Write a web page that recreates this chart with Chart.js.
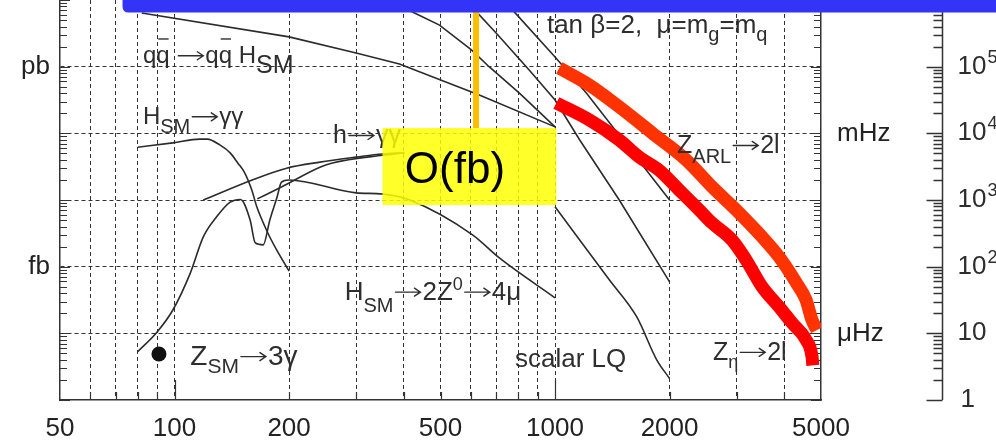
<!DOCTYPE html>
<html>
<head>
<meta charset="utf-8">
<script src="https://cdn.jsdelivr.net/npm/chart.js@4.4.1/dist/chart.umd.min.js"></script>
<style>
  html, body { margin: 0; padding: 0; background: #fff; overflow: hidden; }
  canvas { display: block; }
</style>
</head>
<body>
<canvas id="c" width="996" height="443"></canvas>
<script>
// ---- axes -------------------------------------------------------------
const massGrid   = [50, 60, 70, 80, 90, 100, 200, 300, 400, 500, 600, 700, 800, 900, 1000, 2000, 3000, 4000, 5000];
const massLabels = [50, 100, 200, 500, 1000, 2000, 5000];
const xsecDecades = [0.01, 0.1, 1, 10, 100, 1000, 10000];   // fb
const unitLabels = { 1000: 'pb', 1: 'fb' };
const rateLabels = { 100: 'mHz', 0.1: 'μHz' };
const rateDecades = [1, 10, 100, 1000, 10000, 100000];        // events / year scale
const ratePerFb = 100;

// ---- curves: mass (GeV) vs sigma x BR (fb) -----------------------------
const qqH_mass = [82, 200, 300, 390, 630, 1000];
const qqH_xsec = [6400, 2800, 1600, 1100, 380, 125];

const susyA_mass = [401, 422, 497, 603, 672, 806, 1000];
const susyA_xsec = [7700, 6600, 4200, 1780, 990, 400, 125];

const susyB_mass = [602, 700, 855, 1000, 1160, 1475, 2000];
const susyB_xsec = [8100, 3200, 890, 316, 80, 10, 0.59];

const susyC_mass = [757, 1000, 1210, 2000];
const susyC_xsec = [8100, 1400, 400, 10];

const lq_mass = [1000, 1390, 1640, 1850, 2000];
const lq_xsec = [7.9, 0.63, 0.176, 0.04, 0.021];

const hzz_mass = [80, 90, 99, 110, 119, 129, 140, 149, 158, 163, 171, 178, 186, 191, 200, 300, 352, 415, 607, 714, 1000];
const hzz_xsec = [0.053, 0.105, 0.224, 0.80, 2.8, 5.6, 9.3, 10.2, 5.0, 2.27, 2.12, 5.0, 11.1, 18.6, 20, 12.8, 12.3, 10, 3.0, 1.35, 0.34];

const hgg_mass = [80, 99, 116.5, 122, 131.5, 140, 146.6, 153, 159.6, 164.5, 175, 185.5, 200];
const hgg_xsec = [62, 72, 82, 82, 67, 51, 36, 25.4, 14.1, 7.9, 3.4, 1.78, 0.86];

const hggSusy1_mass = [119, 160, 197, 241, 301, 352, 402];
const hggSusy1_xsec = [10, 20, 30, 37, 44, 49, 51];

const hggSusy2_mass = [165, 191, 241, 260, 352, 402];
const hggSusy2_xsec = [10.4, 15.7, 31, 36, 47, 51];

const zArl_mass = [1026, 1230, 1475, 1801, 2211, 2587, 2991, 3500, 3880, 4300, 4567, 4735, 4880];
const zArl_xsec = [955, 531, 249, 101, 40, 15.7, 7.1, 2.79, 1.40, 0.58, 0.317, 0.158, 0.112];

const zEta_mass = [1008, 1230, 1475, 1665, 1878, 2120, 2392, 2587, 2920, 3178, 3500, 3880, 4196, 4567, 4735, 4760];
const zEta_xsec = [285, 159, 79.5, 44, 28, 14.1, 7.1, 4.5, 2.5, 1.26, 0.5, 0.25, 0.143, 0.08, 0.045, 0.033];

const z3g_mass = [91];
const z3g_xsec = [0.049];

// ---- annotation extents (GeV / fb) ------------------------------------
const reachBox = { massFrom: 352, massTo: 1008, xsecFrom: 8.4, xsecTo: 120 };
const reachMarkMass = 620;
const bannerFromMass = 73;
const bannerToXsec = 6500;

const FONT = '"Liberation Sans", Arial, Helvetica, sans-serif';
const INK = '#2e2e2e';
const LINE = '#2b2b2b';

const pts = (xs, ys) => xs.map((x, i) => ({ x, y: ys[i] }));

function thin(xs, ys, smooth) {
  return {
    data: pts(xs, ys), borderColor: LINE, borderWidth: 1.6, pointRadius: 0,
    fill: false, order: 2,
    cubicInterpolationMode: smooth ? 'monotone' : 'default', tension: 0
  };
}
function thick(xs, ys, color) {
  return {
    data: pts(xs, ys), borderColor: color, borderWidth: 13, pointRadius: 0,
    fill: false, order: 0, cubicInterpolationMode: 'monotone',
    borderCapStyle: 'butt', borderJoinStyle: 'round'
  };
}

// ---- process labels ---------------------------------------------------
const curveLabels = [
  { at: [82.6, 1136], size: 24, subSize: 25, subDy: 10,
    parts: [['q'], ['q', 'bar'], [' '], ['', 'arrow'], ['q'], ['q', 'bar'], [' '], ['H'], ['SM', 'sub']] },
  { at: [82.6, 138], size: 24, subSize: 20, subDy: 9,
    parts: [['H'], ['SM', 'sub'], ['', 'arrow'], ['γγ']] },
  { at: [261, 71.7], size: 25,
    parts: [['h'], ['', 'arrow'], ['γγ']] },
  { at: [952, 3200], size: 26, subSize: 20, subDy: 8,
    parts: [['tan β=2,  μ=m'], ['g', 'subtilde'], ['=m'], ['q', 'subtilde']] },
  { at: [2092, 50.8], size: 25, subSize: 20, subDy: 10,
    parts: [['Z'], ['ARL', 'sub'], ['', 'arrow'], ['2l']] },
  { at: [280, 0.317], size: 26, subSize: 20, subDy: 12, supSize: 18, supDy: -10,
    parts: [['H'], ['SM', 'sub'], ['', 'arrow'], ['2Z'], ['0', 'sup'], ['', 'arrow'], ['4μ']] },
  { at: [110, 0.0335], size: 28, subSize: 21, subDy: 8,
    parts: [['Z'], ['SM', 'sub'], ['', 'arrow'], ['3γ']] },
  { at: [785, 0.0313], size: 26, parts: [['scalar LQ']] },
  { at: [2600, 0.04], size: 25, subSize: 18, subDy: 8,
    parts: [['Z'], ['η', 'sub'], ['', 'arrow'], ['2l']] }
];
const reachText = { at: [403, 18], size: 44, text: 'O(fb)' };

function drawArrow(ctx, x, y, w) {
  ctx.save();
  ctx.strokeStyle = INK; ctx.lineWidth = 1.4; ctx.lineCap = 'round';
  ctx.beginPath();
  ctx.moveTo(x, y); ctx.lineTo(x + w, y);
  ctx.moveTo(x + w - 6, y - 4); ctx.lineTo(x + w, y); ctx.lineTo(x + w - 6, y + 4);
  ctx.stroke();
  ctx.restore();
}

function drawRich(ctx, x, y, L) {
  const subSize = L.subSize || L.size * 0.8, subDy = L.subDy || 9;
  const supSize = L.supSize || L.size * 0.7, supDy = L.supDy || -10;
  let cx = x;
  ctx.fillStyle = INK;
  ctx.textBaseline = 'alphabetic';
  ctx.textAlign = 'left';
  for (const [t, kind] of L.parts) {
    if (kind === 'arrow') {
      const w = 25;
      drawArrow(ctx, cx + 2, y - L.size * 0.3, w);
      cx += w + 4;
      continue;
    }
    let size = L.size, dy = 0;
    if (kind === 'sub' || kind === 'subtilde') { size = subSize; dy = subDy; }
    if (kind === 'sup') { size = supSize; dy = supDy; }
    ctx.font = `${size}px ${FONT}`;
    ctx.fillText(t, cx, y + dy);
    const w = ctx.measureText(t).width;
    if (kind === 'bar') {
      ctx.save();
      ctx.strokeStyle = INK; ctx.lineWidth = 1.4;
      ctx.beginPath();
      ctx.moveTo(cx + 2, y - size * 1.0); ctx.lineTo(cx + w - 1, y - size * 1.0);
      ctx.stroke();
      ctx.restore();
    }
    if (kind === 'subtilde') {
      ctx.font = `${Math.round(size * 0.9)}px ${FONT}`;
      const tw = ctx.measureText('~').width;
      ctx.fillText('~', cx + (w - tw) / 2, y + dy - size * 1.35);
    }
    cx += w;
  }
}

const overlay = {
  id: 'overlay',
  beforeDatasetsDraw(chart) {
    const { ctx, chartArea: a, scales: { x, y } } = chart;
    ctx.save();
    ctx.strokeStyle = '#333';
    ctx.lineWidth = 1.2;
    ctx.beginPath();
    // inward tick marks on the frame
    for (const d of xsecDecades) {
      for (let m = 1; m <= 9; m++) {
        const py = Math.round(y.getPixelForValue(d * m)) + 0.5;
        if (py < a.top - 1 || py > a.bottom + 1) continue;
        const len = m === 1 ? 10 : 7;
        ctx.moveTo(a.left, py); ctx.lineTo(a.left + len, py);
        ctx.moveTo(a.right - len, py); ctx.lineTo(a.right, py);
      }
    }
    for (const v of massGrid) {
      if (v === 50 || v === 5000) continue;
      const px = Math.round(x.getPixelForValue(v)) + 0.5;
      const len = (v === 100 || v === 1000) ? 20 : 8;
      ctx.moveTo(px, a.bottom); ctx.lineTo(px, a.bottom - len);
    }
    ctx.stroke();

    // event-rate axis on the far right
    const X = Math.round(a.right + 121) + 0.5;
    ctx.lineWidth = 1.5;
    ctx.beginPath();
    ctx.moveTo(X, a.top); ctx.lineTo(X, a.bottom);
    for (const r of rateDecades.concat([1000000])) {
      for (let m = 1; m <= 9; m++) {
        const py = Math.round(y.getPixelForValue(r * m / ratePerFb)) + 0.5;
        if (py < a.top - 1 || py > a.bottom + 1) continue;
        const len = m === 1 ? 16 : 9;
        ctx.moveTo(X - len, py); ctx.lineTo(X, py);
      }
    }
    ctx.stroke();
    ctx.fillStyle = INK;
    ctx.textAlign = 'left';
    ctx.textBaseline = 'alphabetic';
    for (const r of rateDecades) {
      const py = y.getPixelForValue(r / ratePerFb);
      const exp = Math.round(Math.log10(r));
      ctx.font = `26px ${FONT}`;
      if (exp === 0) { ctx.fillText('1', X + 18, py + 7); continue; }
      ctx.fillText('10', X + 15, py + 7);
      if (exp > 1) {
        const w = ctx.measureText('10').width;
        ctx.font = `18px ${FONT}`;
        ctx.fillText(String(exp), X + 15 + w + 1, py - 4);
      }
    }
    ctx.restore();
  },
  afterDatasetsDraw(chart) {
    const { ctx, scales: { x, y } } = chart;
    ctx.save();
    for (const L of curveLabels) {
      drawRich(ctx, x.getPixelForValue(L.at[0]), y.getPixelForValue(L.at[1]), L);
    }
    // discovery-reach box
    const bx0 = x.getPixelForValue(reachBox.massFrom), bx1 = x.getPixelForValue(reachBox.massTo);
    const by0 = y.getPixelForValue(reachBox.xsecTo), by1 = y.getPixelForValue(reachBox.xsecFrom);
    ctx.fillStyle = 'rgba(255,255,0,0.84)';
    ctx.fillRect(bx0, by0, bx1 - bx0, by1 - by0);
    ctx.fillStyle = '#000';
    ctx.font = `${reachText.size}px ${FONT}`;
    ctx.textAlign = 'left';
    ctx.textBaseline = 'alphabetic';
    ctx.fillText(reachText.text, x.getPixelForValue(reachText.at[0]), y.getPixelForValue(reachText.at[1]));
    // marker rising from the box
    const mx = x.getPixelForValue(reachMarkMass);
    ctx.fillStyle = '#ffbf00';
    ctx.fillRect(mx - 3, 0, 6, by0);
    // banner across the top
    const bl = x.getPixelForValue(bannerFromMass), bb = y.getPixelForValue(bannerToXsec);
    const r = 6;
    ctx.fillStyle = '#3434f8';
    ctx.beginPath();
    ctx.moveTo(bl, -r);
    ctx.lineTo(chart.width, -r);
    ctx.lineTo(chart.width, bb);
    ctx.lineTo(bl + r, bb);
    ctx.quadraticCurveTo(bl, bb, bl, bb - r);
    ctx.closePath();
    ctx.fill();
    ctx.restore();
  }
};

const tickFont = { family: FONT, size: 26 };
const noEdgePadding = s => { s.paddingTop = 0; s.paddingBottom = 0; s.paddingLeft = 0; s.paddingRight = 0; };

new Chart(document.getElementById('c'), {
  type: 'line',
  data: {
    datasets: [
      thick(zArl_mass, zArl_xsec, '#ff3300'),
      thick(zEta_mass, zEta_xsec, '#ff0000'),
      thin(qqH_mass, qqH_xsec, false),
      thin(susyA_mass, susyA_xsec, false),
      thin(susyB_mass, susyB_xsec, false),
      thin(susyC_mass, susyC_xsec, false),
      thin(lq_mass, lq_xsec, true),
      thin(hzz_mass, hzz_xsec, true),
      thin(hgg_mass, hgg_xsec, true),
      thin(hggSusy1_mass, hggSusy1_xsec, true),
      thin(hggSusy2_mass, hggSusy2_xsec, true),
      { type: 'scatter', data: pts(z3g_mass, z3g_xsec), pointRadius: 7.5,
        backgroundColor: '#111', borderWidth: 0, order: 1 }
    ]
  },
  options: {
    responsive: false,
    animation: false,
    devicePixelRatio: 1,
    layout: { padding: 0, autoPadding: false },
    plugins: { legend: { display: false }, tooltip: { enabled: false } },
    scales: {
      x: {
        type: 'logarithmic', min: 50, max: 5000,
        afterBuildTicks: s => { s.ticks = massGrid.map(v => ({ value: v })); },
        afterFit: s => { s.height = 43; noEdgePadding(s); },
        ticks: {
          autoSkip: false, maxRotation: 0, padding: 13, font: tickFont, color: '#222',
          callback: v => massLabels.includes(v) ? String(v) : ''
        },
        grid: {
          drawTicks: false, lineWidth: 1,
          color: c => (c.tick && (c.tick.value === 50 || c.tick.value === 5000)) ? 'rgba(0,0,0,0)' : '#333'
        },
        border: { display: true, color: '#333', width: 1.5, dash: [4, 3] }
      },
      y: {
        type: 'logarithmic', position: 'left', min: 0.01, max: 10000,
        afterBuildTicks: s => { s.ticks = xsecDecades.map(v => ({ value: v })); },
        afterFit: s => { s.width = 60; noEdgePadding(s); },
        ticks: {
          autoSkip: false, padding: 10, font: tickFont, color: '#222',
          callback: v => unitLabels[v] || ''
        },
        grid: {
          drawTicks: false, lineWidth: 1,
          color: c => (c.tick && (c.tick.value === 0.01 || c.tick.value === 10000)) ? 'rgba(0,0,0,0)' : '#333'
        },
        border: { display: true, color: '#333', width: 1.5, dash: [4, 3] }
      },
      y2: {
        type: 'logarithmic', position: 'right', min: 0.01, max: 10000,
        afterBuildTicks: s => { s.ticks = [0.1, 100].map(v => ({ value: v })); },
        afterFit: s => { s.width = 175; noEdgePadding(s); },
        ticks: {
          autoSkip: false, padding: 16, font: tickFont, color: '#222',
          callback: v => rateLabels[v] || ''
        },
        grid: { display: false, drawTicks: false },
        border: { display: true, color: '#333', width: 1.5 }
      }
    }
  },
  plugins: [overlay]
});
</script>
</body>
</html>
